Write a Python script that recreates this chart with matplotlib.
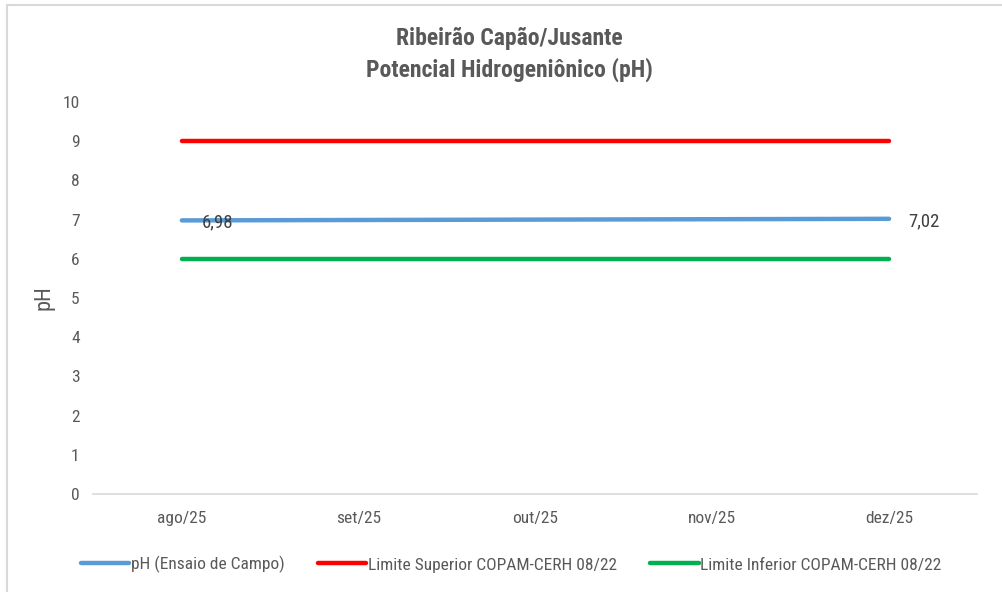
import numpy as np
import matplotlib
matplotlib.use("Agg")
import matplotlib.pyplot as plt
from matplotlib.lines import Line2D

plt.rcParams["font.family"] = ["Roboto Condensed", "Roboto", "DejaVu Sans"]
plt.rcParams["text.color"] = "#595959"

meses = ["ago/25", "set/25", "out/25", "nov/25", "dez/25"]
ph = [6.98, np.nan, np.nan, np.nan, 7.02]
lim_sup = [9, 9, 9, 9, 9]
lim_inf = [6, 6, 6, 6, 6]

cinza = "#595959"

fig = plt.figure(figsize=(10.02, 5.92), dpi=100)
ax = fig.add_axes([0.0933, 0.1655, 0.8822, 0.6622])

x = np.arange(len(meses))
ph_arr = np.array(ph, dtype=float)
ok = ~np.isnan(ph_arr)

ax.plot(x[ok], ph_arr[ok], color="#5B9BD5", lw=3.2, solid_capstyle="round",
        label="pH (Ensaio de Campo)")
ax.plot(x, lim_sup, color="#FF0000", lw=3.2, solid_capstyle="round",
        label="Limite Superior COPAM-CERH 08/22")
ax.plot(x, lim_inf, color="#00B050", lw=3.2, solid_capstyle="round",
        label="Limite Inferior COPAM-CERH 08/22")

# rótulos de dados
for xi, v in zip(x[ok], ph_arr[ok]):
    ax.annotate(f"{v:.2f}".replace(".", ","), (xi, v), xytext=(14, -1.5),
                textcoords="offset points", va="center", ha="left",
                fontsize=13.5, color="#404040")

ax.set_xlim(-0.5, len(meses) - 0.5)
ax.set_ylim(0, 10)
ax.set_yticks(range(0, 11))
ax.set_xticks(x)
ax.set_xticklabels(meses)

for s in ["top", "right", "left"]:
    ax.spines[s].set_visible(False)
ax.spines["bottom"].set_color("#D9D9D9")
ax.spines["bottom"].set_linewidth(1.2)
ax.tick_params(axis="both", length=0, labelsize=12.5, colors=cinza)
ax.tick_params(axis="y", pad=10)
ax.tick_params(axis="x", pad=12)

ax.set_ylabel("pH", fontsize=16, color=cinza, labelpad=6)

fig.text(0.508, 0.935, "Ribeirão Capão/Jusante", ha="center", va="center",
         fontsize=17, fontweight="bold", color=cinza)
fig.text(0.508, 0.882, "Potencial Hidrogeniônico (pH)", ha="center", va="center",
         fontsize=17, fontweight="bold", color=cinza)

fig.legend(loc="center", bbox_to_anchor=(0.51, 0.046), ncol=3, frameon=False,
           fontsize=12.5, handlelength=2.8, handletextpad=0.1, columnspacing=1.9,
           labelcolor=cinza)

# moldura do gráfico
fig.add_artist(Line2D([0.007, 1.0], [0.992, 0.992], transform=fig.transFigure,
                      color="#D9D9D9", lw=1.5))
fig.add_artist(Line2D([0.007, 0.007], [0.0, 0.992], transform=fig.transFigure,
                      color="#D9D9D9", lw=1.5))

plt.savefig("out.png", dpi=100)
